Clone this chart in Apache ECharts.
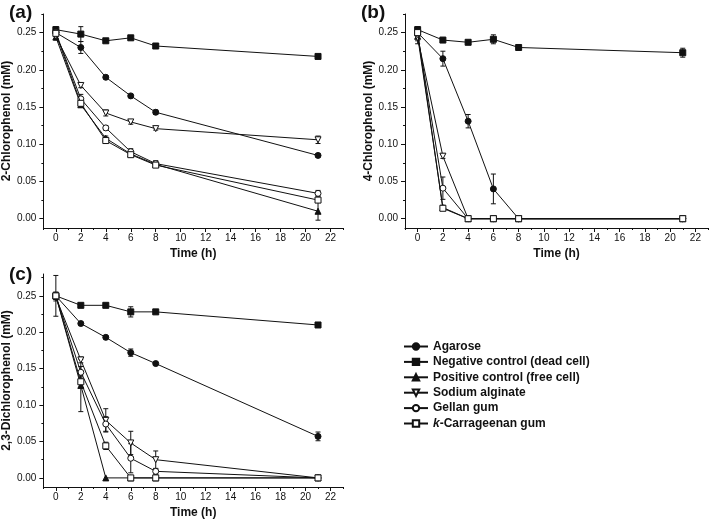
<!DOCTYPE html>
<html><head><meta charset="utf-8">
<script src="https://cdn.jsdelivr.net/npm/echarts@6/dist/echarts.min.js"></script>
<style>html,body{margin:0;padding:0;background:#fff}#c{width:710px;height:520px}</style>
</head><body><div id="c"></div>
<script>
const times = [0, 2, 4, 6, 8, 21];
const seriesNames = ['Agarose', 'Negative control (dead cell)', 'Positive control (free cell)', 'Sodium alginate', 'Gellan gum', 'k-Carrageenan gum'];
const xMajorTicks = [0, 2, 4, 6, 8, 10, 12, 14, 16, 18, 20, 22];
const xMinorTicks = [-1, 1, 3, 5, 7, 9, 11, 13, 15, 17, 19, 21, 23];
const yMajorTicks = [0, 0.05, 0.10, 0.15, 0.20, 0.25];
const yMinorTicks = [0.025, 0.075, 0.125, 0.175, 0.225, 0.275];
const panelTitles = ['(a)', '(b)', '(c)'];
const yTitles = ['2-Chlorophenol (mM)', '4-Chlorophenol (mM)', '2,3-Dichlorophenol (mM)'];
const xTitle = 'Time (h)';

// Panel (a) 2-Chlorophenol
const agaroseA  = [0.250, 0.230, 0.190, 0.165, 0.143, 0.085];
const negativeA = [0.254, 0.248, 0.239, 0.243, 0.232, 0.218];
const positiveA = [0.244, 0.153, 0.108, 0.087, 0.073, 0.010];
const alginateA = [0.245, 0.179, 0.142, 0.130, 0.121, 0.106];
const gellanA   = [0.250, 0.161, 0.122, 0.090, 0.074, 0.034];
const carrA     = [0.249, 0.155, 0.105, 0.086, 0.072, 0.025];
const agaroseErrA  = [0.003, 0.008, 0.002, 0.002, 0.003, 0.002];
const negativeErrA = [0.004, 0.010, 0.002, 0.002, 0.002, 0.002];
const positiveErrA = [0.004, 0.003, 0.003, 0.003, 0.004, 0.012];
const alginateErrA = [0.004, 0.003, 0.004, 0.003, 0.002, 0.005];
const gellanErrA   = [0.004, 0.006, 0.003, 0.004, 0.004, 0.004];
const carrErrA     = [0.004, 0.003, 0.003, 0.003, 0.003, 0.003];

// Panel (b) 4-Chlorophenol
const agaroseB  = [0.250, 0.215, 0.131, 0.040, 0, 0];
const negativeB = [0.254, 0.240, 0.237, 0.241, 0.230, 0.223];
const positiveB = [0.245, 0.015, 0, 0, 0, 0];
const alginateB = [0.243, 0.084, 0, 0, 0, 0];
const gellanB   = [0.248, 0.041, 0, 0, 0, 0];
const carrB     = [0.250, 0.014, 0, 0, 0, 0];
const agaroseErrB  = [0.004, 0.010, 0.009, 0.020, 0, 0];
const negativeErrB = [0.004, 0.002, 0.002, 0.006, 0.002, 0.006];
const positiveErrB = [0.006, 0.003, 0, 0, 0, 0];
const alginateErrB = [0.008, 0.003, 0, 0, 0, 0];
const gellanErrB   = [0.005, 0.015, 0, 0, 0, 0];
const carrErrB     = [0.004, 0.003, 0, 0, 0, 0];

// Panel (c) 2,3-Dichlorophenol
const agaroseC  = [0.250, 0.212, 0.193, 0.172, 0.157, 0.057];
const negativeC = [0.250, 0.237, 0.237, 0.228, 0.228, 0.210];
const positiveC = [0.250, 0.127, 0, 0, 0, 0];
const alginateC = [0.248, 0.162, 0.079, 0.048, 0.025, 0];
const gellanC   = [0.250, 0.145, 0.074, 0.027, 0.009, 0];
const carrC     = [0.250, 0.132, 0.044, 0, 0, 0];
const agaroseErrC  = [0.003, 0.002, 0.002, 0.005, 0.002, 0.006];
const negativeErrC = [0.003, 0.002, 0.002, 0.007, 0.002, 0.002];
const positiveErrC = [0.028, 0.036, 0, 0, 0, 0];
const alginateErrC = [0.005, 0.004, 0.016, 0.016, 0.012, 0];
const gellanErrC   = [0.005, 0.008, 0.010, 0.020, 0.004, 0];
const carrErrC     = [0.005, 0.008, 0.005, 0, 0, 0];

const panels = [
  {vals: [agaroseA, negativeA, positiveA, alginateA, gellanA, carrA], errs: [agaroseErrA, negativeErrA, positiveErrA, alginateErrA, gellanErrA, carrErrA]},
  {vals: [agaroseB, negativeB, positiveB, alginateB, gellanB, carrB], errs: [agaroseErrB, negativeErrB, positiveErrB, alginateErrB, gellanErrB, carrErrB]},
  {vals: [agaroseC, negativeC, positiveC, alginateC, gellanC, carrC], errs: [agaroseErrC, negativeErrC, positiveErrC, alginateErrC, gellanErrC, carrErrC]}
];

const INK = '#111';
const FONT = '"Liberation Sans", Arial, sans-serif';
const styles = [
  {symbol: 'circle', rotate: 0, fill: INK},
  {symbol: 'rect', rotate: 0, fill: INK},
  {symbol: 'triangle', rotate: 0, fill: INK},
  {symbol: 'triangle', rotate: 180, fill: '#fff'},
  {symbol: 'circle', rotate: 0, fill: '#fff'},
  {symbol: 'rect', rotate: 0, fill: '#fff'}
];

const grids = [
  {left: 40, top: 14, width: 303, height: 214},
  {left: 405, top: 14, width: 303, height: 214},
  {left: 40, top: 274, width: 303, height: 213}
];
const yMax = [0.275, 0.275, 0.28];
const yMin = -0.0125;

const xAxes = [], yAxes = [], series = [];
grids.forEach((g, i) => {
  xAxes.push({
    gridIndex: i, type: 'value', min: -1, max: 23, position: 'bottom',
    name: xTitle, nameLocation: 'middle', nameGap: 20,
    nameTextStyle: {fontFamily: FONT, fontWeight: 'bold', fontSize: 12, color: INK},
    axisLine: {show: true, onZero: false, lineStyle: {color: INK, width: 1}},
    axisTick: {show: true, inside: false, length: 4, customValues: xMajorTicks, lineStyle: {color: INK}},
    axisLabel: {customValues: xMajorTicks, margin: 5, fontFamily: FONT, fontSize: 10, color: INK},
    splitLine: {show: false}
  });
  yAxes.push({
    gridIndex: i, type: 'value', min: yMin, max: yMax[i], position: 'left',
    name: yTitles[i], nameLocation: 'middle', nameGap: 20,
    nameTextStyle: {fontFamily: FONT, fontWeight: 'bold', fontSize: 12, color: INK},
    axisLine: {show: true, onZero: false, lineStyle: {color: INK, width: 1}},
    axisTick: {show: true, inside: false, length: 4, customValues: yMajorTicks, lineStyle: {color: INK}},
    axisLabel: {customValues: yMajorTicks, margin: 7, fontFamily: FONT, fontSize: 10, color: INK,
      formatter: v => Number(v).toFixed(2)},
    splitLine: {show: false}
  });
});
grids.forEach((g, i) => {
  xAxes.push({
    gridIndex: i, type: 'value', min: -1, max: 23, position: 'bottom',
    axisLine: {show: false, onZero: false},
    axisTick: {show: true, inside: false, length: 2, customValues: xMinorTicks, lineStyle: {color: INK}},
    axisLabel: {show: false}, splitLine: {show: false}
  });
  yAxes.push({
    gridIndex: i, type: 'value', min: yMin, max: yMax[i], position: 'left',
    axisLine: {show: false, onZero: false},
    axisTick: {show: true, inside: false, length: 2, customValues: yMinorTicks, lineStyle: {color: INK}},
    axisLabel: {show: false}, splitLine: {show: false}
  });
});

function renderErr(params, api) {
  const x = api.value(0), y = api.value(1), e = api.value(2);
  if (!e) return null;
  const hi = api.coord([x, y + e]), lo = api.coord([x, y - e]);
  const w = 2.5;
  const st = {stroke: INK, lineWidth: 1};
  return {type: 'group', children: [
    {type: 'line', shape: {x1: hi[0], y1: hi[1], x2: lo[0], y2: lo[1]}, style: st},
    {type: 'line', shape: {x1: hi[0] - w, y1: hi[1], x2: hi[0] + w, y2: hi[1]}, style: st},
    {type: 'line', shape: {x1: lo[0] - w, y1: lo[1], x2: lo[0] + w, y2: lo[1]}, style: st}
  ]};
}

panels.forEach((p, i) => {
  const errData = [];
  p.vals.forEach((vals, s) => {
    const st = styles[s];
    series.push({
      name: seriesNames[s], type: 'line', xAxisIndex: i, yAxisIndex: i,
      data: times.map((t, k) => [t, vals[k]]),
      symbol: st.symbol, symbolRotate: st.rotate, symbolSize: 6,
      lineStyle: {color: INK, width: 1},
      itemStyle: {color: st.fill, borderColor: INK, borderWidth: 1},
      emphasis: {disabled: true}, animation: false, z: 3 + s * 0.1
    });
    times.forEach((t, k) => errData.push([t, vals[k], p.errs[s][k]]));
  });
  series.push({
    type: 'custom', xAxisIndex: i, yAxisIndex: i, renderItem: renderErr,
    data: errData, z: 2, animation: false, silent: true
  });
});

const chart = echarts.init(document.getElementById('c'), null, {renderer: 'canvas'});
chart.setOption({
  animation: false,
  backgroundColor: '#fff',
  grid: grids,
  xAxis: xAxes,
  yAxis: yAxes,
  series: series,
  legend: {
    data: seriesNames, orient: 'vertical', left: 403, top: 340, padding: 0,
    itemWidth: 24, itemHeight: 8, itemGap: 2.4, selectedMode: false,
    textStyle: {fontFamily: FONT, fontWeight: 'bold', fontSize: 12, color: INK, lineHeight: 13,
      rich: {i: {fontStyle: 'italic', fontWeight: 'bold', fontFamily: FONT, fontSize: 12, color: INK, lineHeight: 13}}},
    formatter: name => name === 'k-Carrageenan gum' ? '{i|k}-Carrageenan gum' : name
  },
  graphic: [
    {type: 'text', left: 9, top: 3, style: {text: panelTitles[0], font: 'bold 19px ' + FONT, fill: INK}},
    {type: 'text', left: 361, top: 3, style: {text: panelTitles[1], font: 'bold 19px ' + FONT, fill: INK}},
    {type: 'text', left: 9, top: 265, style: {text: panelTitles[2], font: 'bold 19px ' + FONT, fill: INK}}
  ]
});
</script></body></html>
